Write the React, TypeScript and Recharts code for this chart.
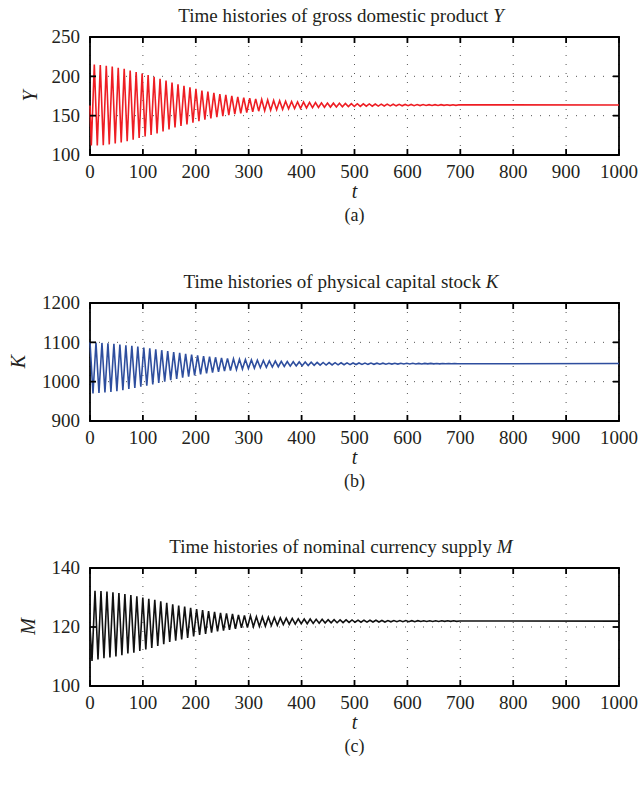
import React from 'react';
import { LineChart, Line, XAxis, YAxis, CartesianGrid, ReferenceArea } from 'recharts';

const WIDTH = 639;
const PANEL_HEIGHT = 265;
const PANEL_TOPS = [0, 265.5, 530.5];
// plot box inside each panel
const PLOT = { left: 90, right: 619, top: 37, bottom: 155 };
const FONT = '"Liberation Serif", "Times New Roman", serif';
const INK = '#231f20';

// time axis
const T_TICKS = [0, 100, 200, 300, 400, 500, 600, 700, 800, 900, 1000];
// spacing between a trough and the next peak
const HALF_PERIOD = 5.65;

// gross domestic product Y
const Y_TICKS = [100, 150, 200, 250];
const Y_START = 163;
const Y_FIRST_T = 2.5;
const Y_TROUGHS = [
  112, 112, 112.5, 113.5, 114.5, 116, 117.5, 119.5, 121.5, 123.5,
  125.5, 127.5, 130, 132.5, 135, 137, 139, 141, 143, 145,
  146.5, 148, 149.5, 150.7, 151.9, 153, 154, 154.9, 155.7, 156.4,
  157, 157.6, 158.1, 158.6, 159, 159.4, 159.8, 160.1, 160.4, 160.7,
  160.9, 161.1, 161.3, 161.5, 161.7, 161.8, 162, 162.1, 162.2, 162.3,
  162.4, 162.5, 162.6, 162.7, 162.75, 162.8, 162.9, 162.95, 163, 163.05,
  163.1, 163.1,
];
const Y_PEAKS = [
  215, 214.5, 213.5, 212.5, 211, 209.5, 207.5, 205.5, 203.5, 201.5,
  199.5, 197, 194.5, 192, 190, 188, 186, 184, 182, 180.5,
  179, 177.5, 176.3, 175.1, 174, 173, 172.1, 171.3, 170.6, 170,
  169.4, 168.9, 168.4, 168, 167.6, 167.2, 166.9, 166.6, 166.3, 166.1,
  165.9, 165.7, 165.5, 165.3, 165.2, 165, 164.9, 164.8, 164.7, 164.6,
  164.5, 164.4, 164.3, 164.25, 164.2, 164.1, 164.05, 164, 163.95, 163.9,
  163.9, 163.85,
];
const Y_END = 163.6;

// physical capital stock K (starts on a peak)
const K_TICKS = [900, 1000, 1100, 1200];
const K_FIRST_T = 0;
const K_PEAKS = [
  1100, 1099.5, 1098.5, 1097.5, 1096, 1094.5, 1092.5, 1091, 1089, 1087,
  1085, 1082.5, 1080, 1077.5, 1075, 1073, 1071, 1069, 1067, 1065,
  1063.5, 1062, 1060.5, 1059.3, 1058, 1057, 1056.2, 1055.3, 1054.5, 1053.8,
  1053, 1052.4, 1051.8, 1051.2, 1050.7, 1050.2, 1049.8, 1049.4, 1049, 1048.7,
  1048.5, 1048.2, 1048, 1047.8, 1047.6, 1047.5, 1047.3, 1047.2, 1047.1, 1047,
  1046.9, 1046.8, 1046.7, 1046.65, 1046.6, 1046.5, 1046.45, 1046.4, 1046.35, 1046.3,
  1046.3, 1046.25,
];
const K_TROUGHS = [
  970, 971, 972.5, 974, 976, 978.5, 981.5, 984, 987, 990,
  993, 996.5, 1000, 1004, 1007, 1010, 1013, 1016, 1018.5, 1021,
  1023, 1025, 1027, 1028.5, 1030.5, 1032, 1033.2, 1034.5, 1035.5, 1036.3,
  1037.2, 1038, 1038.8, 1039.4, 1040, 1040.5, 1041, 1041.5, 1041.9, 1042.2,
  1042.5, 1042.8, 1043.1, 1043.4, 1043.6, 1043.8, 1044, 1044.2, 1044.3, 1044.5,
  1044.6, 1044.7, 1044.8, 1044.9, 1045, 1045.1, 1045.2, 1045.25, 1045.3, 1045.4,
  1045.45, 1045.5,
];
const K_END = 1046;

// nominal currency supply M
const M_TICKS = [100, 120, 140];
const M_START = 120;
const M_FIRST_T = 3.8;
const M_TROUGHS = [
  108.5, 109, 109.4, 109.7, 110, 110.4, 111, 111.3, 111.9, 112.4,
  112.9, 113.6, 114.2, 114.9, 115.4, 115.8, 116.3, 116.8, 117.3, 117.7,
  118.1, 118.5, 118.8, 119, 119.4, 119.7, 119.8, 120.1, 120.2, 120.3,
  120.5, 120.6, 120.8, 120.9, 121, 121.1, 121.1, 121.2, 121.3, 121.35,
  121.4, 121.45, 121.5, 121.55, 121.6, 121.6, 121.65, 121.7, 121.7, 121.7,
  121.75, 121.8, 121.8, 121.8, 121.8, 121.85, 121.85, 121.87, 121.88, 121.9,
  121.9, 121.9,
];
const M_PEAKS = [
  132.3, 132.2, 132, 131.8, 131.5, 131.2, 130.8, 130.4, 130, 129.6,
  129.2, 128.7, 128.2, 127.7, 127.3, 126.9, 126.5, 126.1, 125.7, 125.4,
  125.1, 124.8, 124.6, 124.4, 124.1, 123.9, 123.8, 123.5, 123.4, 123.3,
  123.2, 123.1, 123, 122.9, 122.8, 122.7, 122.7, 122.6, 122.6, 122.5,
  122.5, 122.4, 122.4, 122.4, 122.3, 122.3, 122.3, 122.3, 122.2, 122.2,
  122.2, 122.2, 122.2, 122.15, 122.15, 122.1, 122.1, 122.1, 122.1, 122.1,
  122.1, 122.05,
];
const M_END = 122;

type Point = { t: number; v: number };

// alternate the two lists of turning points, then run flat to t = 1000
function buildSeries(start: number | null, firstT: number, first: number[], second: number[], end: number): Point[] {
  const rows: Point[] = start === null ? [] : [{ t: 0, v: start }];
  let t = firstT;
  const n = Math.max(first.length, second.length);
  for (let i = 0; i < n; i++) {
    if (i < first.length) {
      rows.push({ t, v: first[i] });
      t += HALF_PERIOD;
    }
    if (i < second.length) {
      rows.push({ t, v: second[i] });
      t += HALF_PERIOD;
    }
  }
  rows.push({ t: 1000, v: end });
  return rows;
}

const PANELS = [
  {
    title: 'Time histories of gross domestic product ',
    symbol: 'Y',
    caption: '(a)',
    color: '#ee1d23',
    ticks: Y_TICKS,
    data: buildSeries(Y_START, Y_FIRST_T, Y_TROUGHS, Y_PEAKS, Y_END),
    labelX: 37,
  },
  {
    title: 'Time histories of physical capital stock ',
    symbol: 'K',
    caption: '(b)',
    color: '#2e4e9e',
    ticks: K_TICKS,
    data: buildSeries(null, K_FIRST_T, K_PEAKS, K_TROUGHS, K_END),
    labelX: 25,
  },
  {
    title: 'Time histories of nominal currency supply ',
    symbol: 'M',
    caption: '(c)',
    color: '#111111',
    ticks: M_TICKS,
    data: buildSeries(M_START, M_FIRST_T, M_TROUGHS, M_PEAKS, M_END),
    labelX: 35,
  },
];

const TICK_LEN = 6;
const textStyle = { fontFamily: FONT, fontSize: 19, fill: INK };

// bottom tick label plus inward tick marks on the bottom and top edges
const TimeTick = (props: any) => {
  const { x, payload } = props;
  return (
    <g>
      <line x1={x} x2={x} y1={PLOT.bottom} y2={PLOT.bottom - TICK_LEN} stroke="#000" strokeWidth={1.8} />
      <line x1={x} x2={x} y1={PLOT.top} y2={PLOT.top + TICK_LEN} stroke="#000" strokeWidth={1.8} />
      <text x={x} y={PLOT.bottom + 23} textAnchor="middle" style={textStyle}>
        {payload.value}
      </text>
    </g>
  );
};

// left tick label plus inward tick marks on the left and right edges
const ValueTick = (props: any) => {
  const { y, payload } = props;
  return (
    <g>
      <line x1={PLOT.left} x2={PLOT.left + TICK_LEN} y1={y} y2={y} stroke="#000" strokeWidth={1.8} />
      <line x1={PLOT.right} x2={PLOT.right - TICK_LEN} y1={y} y2={y} stroke="#000" strokeWidth={1.8} />
      <text x={PLOT.left - 10} y={y + 6.4} textAnchor="end" style={textStyle}>
        {payload.value}
      </text>
    </g>
  );
};

export default function App() {
  const midX = (PLOT.left + PLOT.right) / 2;
  const midY = (PLOT.top + PLOT.bottom) / 2;

  return (
    <div style={{ position: 'absolute', left: 0, top: 0, width: WIDTH, height: 786, background: '#fff' }}>
      {PANELS.map((p, i) => {
        const lo = p.ticks[0];
        const hi = p.ticks[p.ticks.length - 1];
        return (
          <div key={p.symbol} style={{ position: 'absolute', left: 0, top: PANEL_TOPS[i] }}>
            <LineChart
              width={WIDTH}
              height={PANEL_HEIGHT}
              data={p.data}
              margin={{ top: PLOT.top, right: WIDTH - PLOT.right, bottom: 70, left: 0 }}
            >
              <CartesianGrid strokeDasharray="1 8" stroke="#555" strokeWidth={1} />
              <XAxis
                dataKey="t"
                type="number"
                domain={[0, 1000]}
                ticks={T_TICKS}
                interval={0}
                height={40}
                axisLine={false}
                tickLine={false}
                tick={TimeTick}
              />
              <YAxis
                type="number"
                domain={[lo, hi]}
                ticks={p.ticks}
                interval={0}
                width={PLOT.left}
                axisLine={false}
                tickLine={false}
                tick={ValueTick}
              />
              <Line
                type="linear"
                dataKey="v"
                stroke={p.color}
                strokeWidth={1.6}
                dot={false}
                isAnimationActive={false}
              />
              <ReferenceArea x1={0} x2={1000} y1={lo} y2={hi} fill="none" stroke="#000" strokeWidth={1.8} />
            </LineChart>
          </div>
        );
      })}
      <svg
        width={WIDTH}
        height={786}
        style={{ position: 'absolute', left: 0, top: 0, pointerEvents: 'none', fontFamily: FONT }}
        fill={INK}
      >
        {PANELS.map((p, i) => {
          const top = PANEL_TOPS[i];
          return (
            <g key={p.symbol} transform={`translate(0, ${top})`}>
              <text x={341} y={22} textAnchor="middle" fontSize={19}>
                {p.title}
                <tspan fontStyle="italic">{p.symbol}</tspan>
              </text>
              <text
                x={p.labelX}
                y={midY}
                textAnchor="middle"
                fontSize={20}
                fontStyle="italic"
                transform={`rotate(-90, ${p.labelX}, ${midY})`}
              >
                {p.symbol}
              </text>
              <text x={midX} y={198} textAnchor="middle" fontSize={20} fontStyle="italic">
                t
              </text>
              <text x={midX} y={221} textAnchor="middle" fontSize={18}>
                {p.caption}
              </text>
            </g>
          );
        })}
      </svg>
    </div>
  );
}
